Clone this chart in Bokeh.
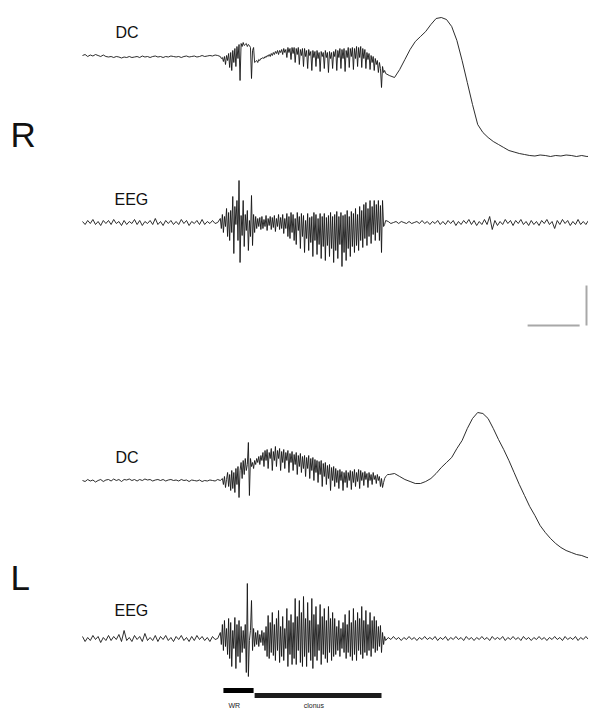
import numpy as np
from bokeh.plotting import figure
from bokeh.models import Range1d
from bokeh.core.properties import value
from bokeh.embed import file_html
from bokeh.resources import INLINE

# ---------------- data (amplitude in a.u., positive = up) ----------------
R_DC_pre = [0, 1, -1, 0.5, -0.5, 1, 0, -1, 0.5, -1, -1.5, -1, -2, -1, -1.5, -2.5, -1.5, -2, -1, -2,
            -1.5, -1, -2, -0.5, -1.5, -1, -2, -1, -0.5, -1.5, -1, -2, -1, -1.5, -0.5, -1, -1.5, -1, -2, -1,
            -0.5, -1.5, -1, -0.5, -1.5, -1, 0, -1, -0.5, 0, -0.5, 0.5, 0]
R_DC_burst = [-1, -3, -2, -6, -1, -9, 0, -5, 2, -12,
              3, -15, 5, -7, 7, -11, 9, -3, 11, -25,
              12, 9, 13, 10, 11, 12, 9, 11, 10, 8,
              -23, 5, 8, -7, -6, -5, -7, -4, -5, -3,
              -3, -2, -3, -1, -2, 0, -1, 1, -1, 2,
              0, 3, 1, 4, 2, 5, 1, 5, 3, 6,
              1, 7, 3, 6, -2, 8, 3, 7, -4, 8,
              2, 8, -7, 7, 1, 8, -9, 6, 0, 7,
              -11, 7, -1, 5, -13, 6, 0, 4, -15, 5,
              -2, 4, -11, 5, -3, 3, -16, 4, -1, 3,
              -13, 5, -2, 3, -17, 4, -3, 3, -13, 4,
              -1, 6, -15, 5, -2, 7, -13, 6, -3, 7,
              -16, 5, -2, 8, -12, 7, -1, 8, -14, 7,
              -3, 9, -11, 8, -2, 9, -12, 7, -3, 6,
              -13, 3, -4, 2, -14, 0, -7, -1, -15, -3,
              -9, -5, -17, -7, -13, -32, -11, -17, -15, -18]
R_DC_post = [-20, -22, -14, -4, 6, 14, 19, 24, 31, 37, 38, 36, 29, 15, -5, -27, -49, -69, -77, -82,
             -86, -89, -92, -95, -96.5, -98, -99, -100, -100.5, -99.5, -100, -101, -100, -100.5, -99.5, -100, -101, -100, -101, -100.5,
             -102, -102]

R_EEG_pre = [1, -2, 2, -1, 3, -2, 1, -3, 2, -1, 2, -2, 3, -1, 1, -3, 2, -2, 1, -1,
             3, -2, 2, -3, 1, -1, 2, -2, 4, -2, 1, -3, 2, -1, 2, -2, 1, -2, 3, -1,
             2, -3, 1, -1, 2, -2, 3, -2, 1, -1, 2, -1, 0]
R_EEG_burst = [4, -6, 8, -10, 6, -4, 14, -14, 10, -18,
               12, -10, 26, -31, 16, -2, 22, -18, 42, -40,
               7, -13, 22, -24, 8, -8, 12, -28, 2, -14,
               27, -23, 8, -10, 6, -6, 4, -4, 5, -7,
               6, -6, 3, -4, 7, -8, 4, -3, 6, -7,
               5, -5, 7, -9, 4, -4, 8, -7, 5, -6,
               8, -11, 4, -6, 9, -14, 6, -16, 10, -10,
               8, -18, 4, -22, 10, -8, 6, -26, 9, -14,
               7, -30, 2, -16, 9, -28, 5, -20, 6, -34,
               10, -18, 8, -32, 4, -22, 9, -36, 6, -24,
               9, -38, 5, -23, 7, -34, 10, -26, 6, -40,
               8, -28, 11, -36, 6, -22, 10, -44, 7, -30,
               8, -38, 12, -26, 6, -34, 11, -24, 9, -30,
               14, -23, 8, -28, 16, -18, 12, -25, 18, -16,
               20, -23, 14, -14, 22, -21, 16, -12, 22, -18,
               18, -10, 22, -18, 17, -30, 22, -4, -2, 2]
R_EEG_post = [1, -1, 0, 1, -1, 1, 0, -1, 1, -1, 0, 1, -1, 2, -1, 1, -2, 1, -1, 2,
              -2, 1, -2, 2, -1, 2, -3, 1, -2, 2, -1, 3, -2, 2, -3, 1, -2, 3, -2,
              6, -7,
              2, -3, 1, -2, 3, -1, 2, -3, 2, -1, 3, -2, 1, -3, 2, -2, 1, -3, 2, -1, 3, -2, 1,
              -6,
              2, -2, 3, -1, 2, -3, 1, -2, 3, -2, 1, -2, 2, -3, 1, -2, 3, -1, 2]

L_DC_pre = [0, -1, 1, -0.5, 0.5, -1.5, 0, 1, -1, 0.5, 1, -0.5, 1.5, 0, 1, -1, 1, 0.5, 1.5, 0,
            1, -0.5, 1, 0, 1.5, 0.5, 1, -0.5, 0.5, 1, 0, 1, -0.5, 0.5, 1, 0, 0.5, -0.5, 1, 0,
            0.5, -1, 0.5, 0, -0.5, 0.5, -1, 0, -0.5, 0.5, 0, -0.5, 1, 0]
L_DC_burst = [2, -4, 4, -7, 1, 8, -6, 6, -10, 10,
              -8, 8, -12, 12, -4, 14, -17, 10, 18, 2,
              20, 6, 22, 10, 16, 38, -15, 22, 14, 18,
              12, 20, 16, 22, 18, 24, 16, 25, 20, 28,
              14, 30, 20, 31, 12, 28, 22, 32, 10, 29,
              20, 34, 14, 30, 22, 32, 10, 29, 18, 31,
              12, 28, 20, 30, 8, 27, 18, 29, 10, 26,
              16, 28, 6, 25, 14, 27, 8, 24, 12, 25,
              4, 23, 12, 25, 2, 22, 10, 23, 0, 21,
              8, 20, -2, 19, 6, 20, -6, 17, 4, 18,
              -4, 15, 2, 16, -10, 13, 0, 14, -6, 12,
              -2, 10, -8, 11, 0, 9, -10, 8, -2, 10,
              -7, 8, 0, 10, -9, 9, -2, 11, -6, 8,
              -1, 11, -8, 10, 0, 8, -5, 9, 1, 7,
              -7, 8, 0, 6, -4, 8, 1, 5, -3, 6,
              0, 4, -6, 2, -7, -2, 2, 4, 5, 6]
L_DC_post = [6, 7, 4, 1, -1, -3, -3, -1, 2, 7, 13, 18, 23, 32, 40, 52, 62, 68, 67, 62,
             52, 41, 31, 20, 8, -4, -15, -26, -35, -45, -52, -58, -63, -67, -70, -72, -74, -75, -77, -78,
             -79, -80]

L_EEG_pre = [2, -3, 1, -2, 3, -1, 2, -4, 1, -2, 3, -2, 2, -1, 4, -3, 8, -2, 1, -3,
             3, -1, 2, -3, 5, -2, 1, -2, 3, -3, 2, -1, 3, -2, 1, -3, 2, -1, 3, -2,
             1, -3, 2, -2, 3, -1, 2, -2, 1, -3, 2, -1, 0]
L_EEG_burst = [6, -6, 14, -12, 18, -8, 10, -16, 20, -20,
               16, -28, 8, -10, 21, -30, 14, -18, 18, -24,
               12, -14, 8, -10, 14, -34, 55, -38, -2, 8,
               38, -12, 10, -8, 6, -6, 8, -8, 4, -4,
               8, -7, 6, -12, 12, -18, 23, -20, 16, -14,
               26, -17, 14, -22, 20, -12, 28, -24, 12, -18,
               22, -22, 10, -10, 30, -28, 18, -16, 24, -26,
               16, -20, 40, -26, 22, -12, 38, -24, 26, -28,
               42, -18, 20, -28, 36, -14, 18, -22, 40, -30,
               24, -18, 32, -22, 14, -12, 34, -26, 22, -16,
               30, -20, 18, -24, 32, -14, 20, -22, 26, -18,
               20, -16, 12, -12, 18, -18, 10, -10, 16, -14,
               24, -20, 14, -14, 28, -18, 16, -22, 30, -16,
               18, -22, 26, -12, 20, -16, 32, -20, 18, -14,
               28, -17, 14, -12, 26, -18, 18, -10, 22, -14,
               18, -12, 12, -8, 13, -14, 6, -6, 2, -2]
L_EEG_post = [1, -1, 2, -1, 1, -2, 1, -1, 2, -1, 1, -2, 1, -1, 2, -1, 1, -1, 2, -2,
              1, -1, 2, -2, 1, -1, 2, -1, 1, -2, 2, -1, 1, -2, 1, -1, 2, -1, 1, -2,
              2, -1, 1, -1, 2, -2, 1, -1, 2, -1, 1, -2, 2, -1, 1, -2, 1, -1, 2, -1,
              1, -2, 1, -1, 2, -1, 1, -2, 2, -1, 1, -1, 2, -2, 1, -1, 2, -1, 1, -2,
              1, -1, 2, -1]

# segments: (start time s, sampling step s, values)
R_DC_segments = [(0.0, 0.5, R_DC_pre), (26.5, 0.2, R_DC_burst), (59.0, 1.0, R_DC_post)]
R_EEG_segments = [(0.0, 0.5, R_EEG_pre), (26.5, 0.2, R_EEG_burst), (58.8, 0.5, R_EEG_post)]
L_DC_segments = [(0.0, 0.5, L_DC_pre), (26.9, 0.2, L_DC_burst), (59.0, 1.0, L_DC_post)]
L_EEG_segments = [(0.0, 0.5, L_EEG_pre), (26.5, 0.2, L_EEG_burst), (58.8, 0.5, L_EEG_post)]

# behavioural events (s)
event_names = ["WR", "clonus"]
event_start = [27.1, 33.1]
event_end = [32.9, 57.5]

scale_bar_s = 10.0
scale_bar_start = 85.6

# ---------------- helpers ----------------
def build(segments):
    ts, vs = [], []
    for t0, dt, vals in segments:
        ts.append(t0 + dt * np.arange(len(vals)))
        vs.append(np.asarray(vals, dtype=float))
    return np.concatenate(ts), np.concatenate(vs)

W, H = 588, 709
PX_PER_S = 5.2
T0_PX = 82

p = figure(width=W, height=H, x_range=Range1d(0, W), y_range=Range1d(H, 0),
           output_backend="svg", toolbar_location=None, min_border=0,
           x_axis_location=None, y_axis_location=None)
p.grid.visible = False
p.outline_line_color = None
p.background_fill_color = "white"
p.border_fill_color = "white"

p.extra_x_ranges = {"time": Range1d(-T0_PX / PX_PER_S, (W - T0_PX) / PX_PER_S)}

baselines = {"rdc": 55, "reeg": 222, "ldc": 480, "leeg": 638}
p.extra_y_ranges = {k: Range1d(b - H, b) for k, b in baselines.items()}

trace_col = "#151515"
for name, segs in [("rdc", R_DC_segments), ("reeg", R_EEG_segments),
                   ("ldc", L_DC_segments), ("leeg", L_EEG_segments)]:
    t, v = build(segs)
    p.line(t, v, x_range_name="time", y_range_name=name, line_color=trace_col, line_width=0.9)

# event bars
p.segment(x0=[event_start[0]], x1=[event_end[0]], y0=[690], y1=[690], x_range_name="time",
          line_color="#000000", line_width=5)
p.segment(x0=[event_start[1]], x1=[event_end[1]], y0=[695], y1=[695], x_range_name="time",
          line_color="#1c1c1c", line_width=5)
mids = [(s + e) / 2 - 0.8 for s, e in zip(event_start, event_end)]
p.text(x=mids, y=[705, 705], text=event_names, x_range_name="time",
       text_font=value("Liberation Sans"), text_font_size="7px", text_align="center",
       text_baseline="alphabetic", text_color="#222222")

# scale bars
p.segment(x0=[scale_bar_start], x1=[scale_bar_start + scale_bar_s], y0=[325], y1=[325],
          x_range_name="time", line_color="#a8a8a8", line_width=2)
p.segment(x0=[586], x1=[586], y0=[285], y1=[325], line_color="#a8a8a8", line_width=2)

# labels
p.text(x=[10, 10], y=[134, 577], text=["R", "L"], text_font=value("Liberation Sans"),
       text_font_size="35px", text_baseline="alphabetic", text_color="#111111")
p.text(x=[115, 114, 115, 114], y=[32, 199, 457, 610], text=["DC", "EEG", "DC", "EEG"],
       text_font=value("Liberation Sans"), text_font_size="16px", text_baseline="alphabetic",
       text_color="#111111")

open("out.html", "w").write(file_html(p, INLINE))
